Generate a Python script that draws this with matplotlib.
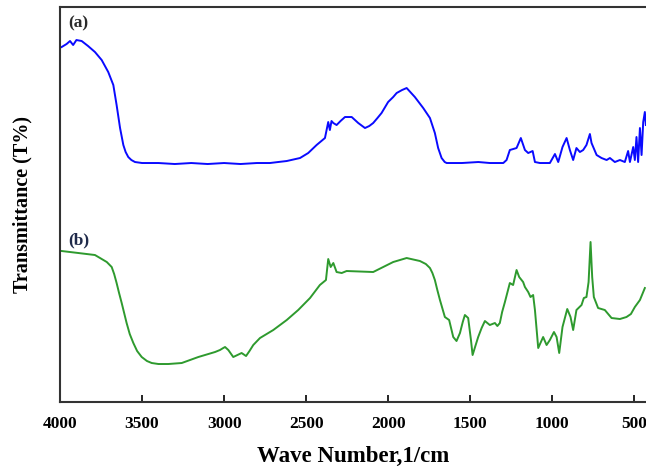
import numpy as np
import matplotlib
matplotlib.use("Agg")
import matplotlib.pyplot as plt

plt.rcParams['font.family'] = ['Liberation Serif', 'DejaVu Serif']

# FTIR spectrum (a): wavenumber (1/cm) and transmittance (arb. units)
wn_a = [3990, 3960, 3939, 3920, 3900, 3868, 3829, 3787, 3746, 3706, 3675, 3655,
        3634, 3614, 3600, 3584, 3565, 3543, 3500, 3400, 3300, 3200, 3100, 3000,
        2900, 2800, 2720, 2670, 2618, 2537, 2487, 2436, 2385, 2365, 2355, 2345,
        2334, 2314, 2290, 2263, 2222, 2182, 2141, 2115, 2091, 2065, 2040, 2000,
        1969, 1948, 1915, 1887, 1837, 1786, 1745, 1715, 1695, 1674, 1655, 1643,
        1550, 1450, 1380, 1298, 1278, 1258, 1217, 1191, 1166, 1146, 1119, 1105,
        1075, 1014, 983, 963, 937, 912, 892, 872, 852, 831, 811, 791, 770, 760,
        729, 699, 668, 648, 618, 587, 557, 537, 526, 506, 496, 486, 476, 465,
        455, 445, 435, 429]
t_a = [355, 358, 361, 357, 362, 361, 356, 350, 342, 330, 317, 297,
       274, 257, 250, 245, 242, 240, 239, 239, 238, 239, 238, 239,
       238, 239, 239, 240, 241, 244, 249, 257, 264, 280, 272, 281,
       279, 277, 281, 285, 285, 279, 274, 276, 279, 284, 289, 300,
       305, 309, 312, 314, 305, 294, 284, 269, 254, 244, 240, 239,
       239, 240, 239, 239, 242, 252, 254, 264, 252, 249, 251, 240,
       239, 239, 248, 240, 255, 264, 252, 242, 254, 250, 252, 257, 268, 259,
       247, 244, 242, 244, 240, 242, 240, 251, 240, 255, 242, 265, 240, 274,
       247, 280, 290, 277]

# FTIR spectrum (b)
wn_b = [3990, 3888, 3787, 3756, 3715, 3685, 3670, 3655, 3640, 3624, 3594, 3575,
        3553, 3530, 3502, 3470, 3441, 3400, 3340, 3258, 3157, 3055, 3025, 3005,
        2994, 2974, 2944, 2893, 2866, 2845, 2822, 2781, 2700, 2618, 2548, 2476,
        2416, 2379, 2365, 2350, 2334, 2314, 2283, 2253, 2091, 2030, 1969, 1887,
        1806, 1770, 1745, 1730, 1715, 1700, 1684, 1654, 1628, 1603, 1583, 1562,
        1545, 1532, 1512, 1495, 1485, 1470, 1451, 1430, 1410, 1380, 1349, 1334,
        1319, 1305, 1288, 1258, 1238, 1217, 1201, 1177, 1166, 1146, 1132, 1116,
        1105, 1085, 1055, 1034, 1014, 989, 973, 957, 937, 908, 888, 872, 852,
        821, 807, 791, 778, 766, 756, 746, 720, 679, 638, 587, 547, 520, 496,
        465, 435]
t_b = [151, 149, 147, 144, 140, 135, 128, 119, 109, 99, 79, 68,
       59, 51, 45, 41, 39, 38, 38, 39, 45, 50, 52, 54,
       55, 52, 45, 49, 46, 51, 57, 64, 72, 82, 92, 104,
       117, 122, 143, 135, 139, 130, 129, 131, 130, 135, 140, 144,
       141, 138, 134, 129, 122, 112, 102, 85, 82, 65, 61, 69,
       80, 87, 84, 62, 47, 55, 65, 74, 81, 77, 79, 76,
       79, 90, 100, 119, 117, 132, 125, 120, 115, 110, 105, 107,
       92, 54, 65, 57, 62, 70, 65, 49, 75, 93, 85, 72, 92,
       97, 104, 105, 120, 160, 125, 105, 94, 92, 84, 83, 85, 88, 95,
       102, 114]

fig = plt.figure(figsize=(6.46, 4.68), dpi=100)
ax = fig.add_axes([0.0929, 0.141, 0.9071, 0.844])

ax.plot(wn_a, t_a, color='#0a0aff', lw=1.4)
ax.plot(wn_b, t_b, color='#2e9a2e', lw=1.4)

ax.set_xlim(4000, 428)
ax.set_ylim(0, 395)
ax.set_xticks([4000, 3500, 3000, 2500, 2000, 1500, 1000, 500])
ax.set_yticks([])
ax.tick_params(axis='x', direction='in', length=5, width=1.2, labelsize=12.5, pad=10)
for lab in ax.get_xticklabels():
    lab.set_fontweight('bold')

for side in ['left', 'top', 'bottom']:
    ax.spines[side].set_linewidth(1.5)
    ax.spines[side].set_color('#333333')
ax.spines['right'].set_visible(False)

ax.text(3950, 375, '(a)', fontsize=12.5, fontweight='bold', color='#2a2a2a')
ax.text(3950, 158, '(b)', fontsize=12.5, fontweight='bold', color='#1f2a4a')

ax.set_xlabel('Wave Number,1/cm', fontsize=16.5, fontweight='bold', labelpad=10)
ax.set_ylabel('Transmittance (T%)', fontsize=14.5, fontweight='bold', labelpad=20)

fig.savefig('out.png', dpi=100)
